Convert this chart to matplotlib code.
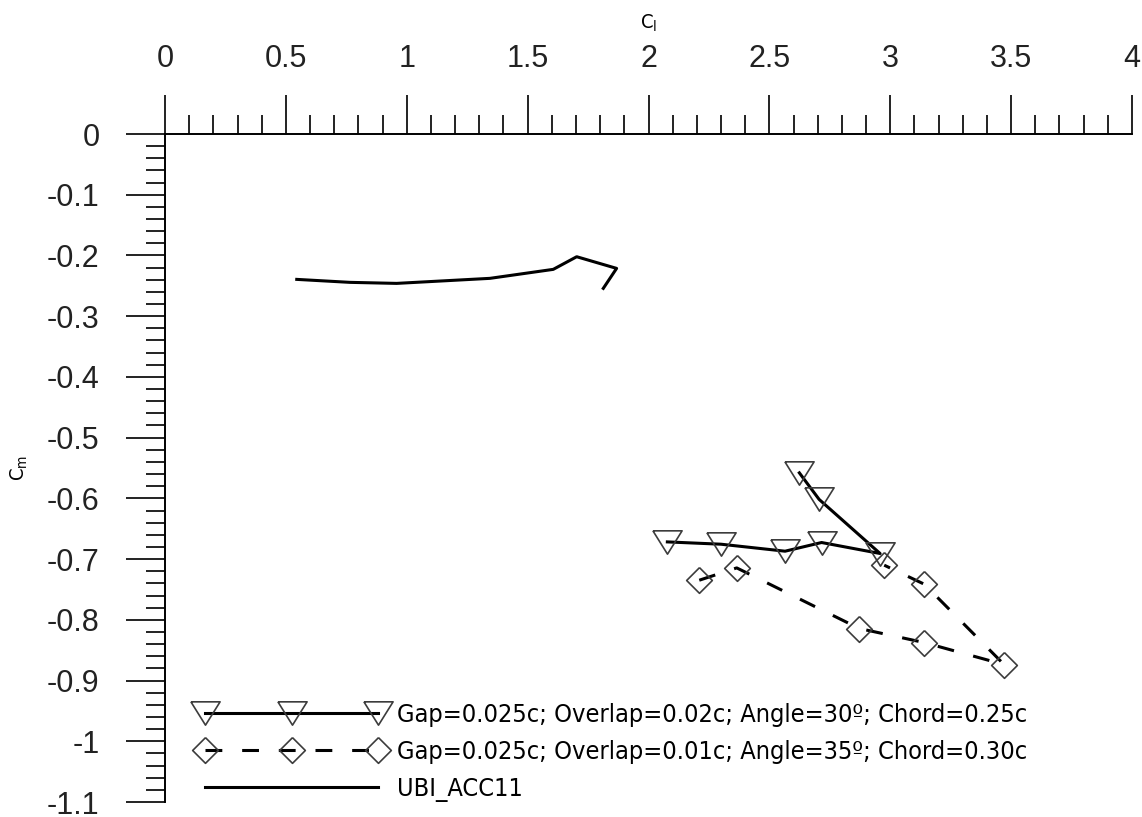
import matplotlib
matplotlib.use("Agg")
import matplotlib.pyplot as plt
from matplotlib.legend_handler import HandlerLine2D
from matplotlib.ticker import MultipleLocator
import numpy as np

# Lift coefficient vs pitching moment coefficient
cl_ubi = [0.545, 0.765, 0.958, 1.344, 1.606, 1.703, 1.868, 1.813]
cm_ubi = [-0.2394, -0.2443, -0.2460, -0.2377, -0.2229, -0.2021, -0.2213, -0.2542]

cl_flap30 = [2.078, 2.300, 2.565, 2.716, 2.958, 2.706, 2.624]
cm_flap30 = [-0.6717, -0.6755, -0.6870, -0.6727, -0.6908, -0.6018, -0.5580]

cl_flap35 = [2.210, 2.365, 2.872, 3.140, 3.471, 3.141, 2.975]
cm_flap35 = [-0.7348, -0.7145, -0.8143, -0.8374, -0.8737, -0.7414, -0.7100]

labels = [
    "Gap=0.025c; Overlap=0.02c; Angle=30º; Chord=0.25c",
    "Gap=0.025c; Overlap=0.01c; Angle=35º; Chord=0.30c",
    "UBI_ACC11",
]

x_ticks = [0, 0.5, 1, 1.5, 2, 2.5, 3, 3.5, 4]
x_tick_labels = ["0", "0.5", "1", "1.5", "2", "2.5", "3", "3.5", "4"]
y_ticks = [0, -0.1, -0.2, -0.3, -0.4, -0.5, -0.6, -0.7, -0.8, -0.9, -1, -1.1]
y_tick_labels = ["0", "-0.1", "-0.2", "-0.3", "-0.4", "-0.5", "-0.6", "-0.7",
                 "-0.8", "-0.9", "-1", "-1.1"]

plt.rcParams["mathtext.default"] = "regular"

W, H = 1142, 817
fig = plt.figure(figsize=(W / 100, H / 100), dpi=100)
left, right, top, bottom = 165, 1132, 134, 802
ax = fig.add_axes([left / W, 1 - bottom / H, (right - left) / W, (bottom - top) / H])

tri = [(-1.0, 0.8), (1.0, 0.8), (0.0, -0.8), (-1.0, 0.8)]
dia = [(0.0, 1.0), (1.0, 0.0), (0.0, -1.0), (-1.0, 0.0), (0.0, 1.0)]
edge = "#3c3c3c"

l1, = ax.plot(cl_flap30, cm_flap30, color="black", lw=2.2, marker=tri, ms=21,
              mfc="none", mec=edge, mew=1.2, label=labels[0], clip_on=False)
l2, = ax.plot(cl_flap35, cm_flap35, color="black", lw=2.2, ls=(0, (5.5, 6.5)),
              marker=dia, ms=18.5, mfc="none", mec=edge, mew=1.2,
              label=labels[1], clip_on=False)
l3, = ax.plot(cl_ubi, cm_ubi, color="black", lw=2.2, label=labels[2])

ax.set_xlim(0, 4)
ax.set_ylim(-1.1, 0)

for s in ("right", "bottom"):
    ax.spines[s].set_visible(False)
for s in ("top", "left"):
    ax.spines[s].set_linewidth(1.4)

tick_font = {"family": "Liberation Sans", "size": 22}
ax.xaxis.tick_top()
ax.xaxis.set_label_position("top")
ax.set_xticks(x_ticks)
ax.set_xticklabels(x_tick_labels, fontdict=tick_font)
ax.xaxis.set_minor_locator(MultipleLocator(0.1))
ax.set_yticks(y_ticks)
ax.set_yticklabels(y_tick_labels, fontdict=tick_font)
ax.yaxis.set_minor_locator(MultipleLocator(0.02))

ax.tick_params(axis="both", which="major", direction="out", length=28,
               width=1.4, colors="#222222")
ax.tick_params(axis="x", which="major", pad=15)
ax.tick_params(axis="y", which="major", pad=19)
ax.tick_params(axis="both", which="minor", direction="out", length=14,
               width=1.4, colors="#222222")

label_font = {"family": "DejaVu Sans", "stretch": "condensed", "size": 14.5}
ax.set_xlabel("C$_l$", fontdict=label_font, labelpad=11)
ax.set_ylabel("C$_m$", fontdict=label_font, labelpad=12)

handler = HandlerLine2D(marker_pad=0)
leg = ax.legend(handles=[l1, l2, l3], loc="upper left",
                bbox_to_anchor=(205 / W, 1 - 703 / H),
                bbox_transform=fig.transFigure, frameon=False, numpoints=3,
                handler_map={l1: handler, l2: handler, l3: handler},
                handlelength=6.85, handletextpad=0.75, labelspacing=0.52,
                borderpad=0, borderaxespad=0,
                prop={"family": "DejaVu Sans", "stretch": "condensed", "size": 18.2})

fig.savefig("out.png", dpi=100)
